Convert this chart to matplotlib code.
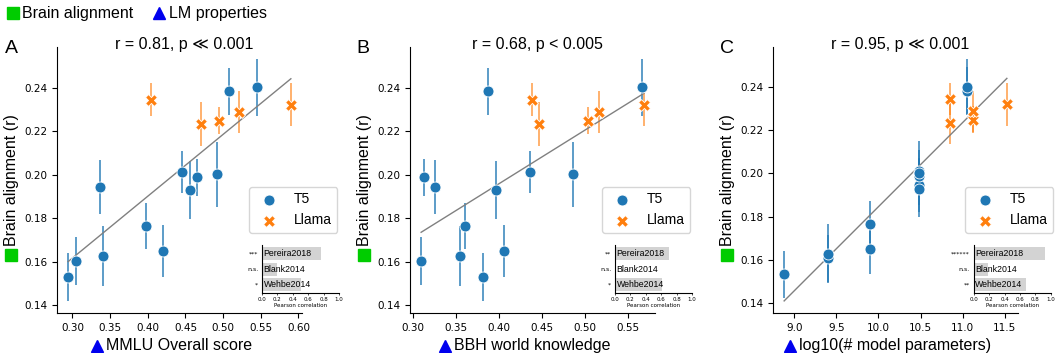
import numpy as np
import matplotlib
matplotlib.use('Agg')
import matplotlib.pyplot as plt
from matplotlib.lines import Line2D

# brain alignment (r) per model, same values in every panel
t5_brain = [0.1531, 0.1605, 0.1945, 0.1627, 0.1764, 0.1651, 0.2013, 0.1929, 0.1988, 0.2003, 0.2385, 0.2402]
t5_err = [0.011, 0.011, 0.0123, 0.0138, 0.0106, 0.0119, 0.0096, 0.0133, 0.0086, 0.015, 0.0108, 0.013]
llama_brain = [0.2346, 0.2235, 0.2249, 0.2289, 0.2323]
llama_err = [0.0074, 0.010, 0.0063, 0.0096, 0.010]

# LM properties
t5_mmlu = [0.2943, 0.3053, 0.3366, 0.341, 0.397, 0.4196, 0.4456, 0.4558, 0.4655, 0.4924, 0.5079, 0.5449]
llama_mmlu = [0.4041, 0.4712, 0.495, 0.5206, 0.5899]
t5_bbh = [0.3815, 0.3096, 0.3258, 0.3546, 0.36, 0.4058, 0.4365, 0.3965, 0.3135, 0.4858, 0.3873, 0.5654]
llama_bbh = [0.4377, 0.4465, 0.5035, 0.5162, 0.5681]
t5_logp = [8.88, 9.395, 10.48, 9.395, 9.904, 9.904, 10.48, 10.48, 10.48, 10.48, 11.05, 11.05]
llama_logp = [10.844, 10.844, 11.117, 11.117, 11.524]

# inset: correlation per brain dataset
datasets = ['Pereira2018', 'Blank2014', 'Wehbe2014']
corr_a = [0.77, 0.19, 0.51]
corr_b = [0.70, 0.0, 0.61]
corr_c = [0.925, 0.185, 0.674]
sig_a = ['***', 'n.s.', '*']
sig_b = ['**', 'n.s.', '*']
sig_c = ['******', 'n.s.', '**']

letters = ['A', 'B', 'C']
xlabels = ['MMLU Overall score', 'BBH world knowledge', 'log10(# model parameters)']
titles = ['r = 0.81, p \u226a 0.001', 'r = 0.68, p < 0.005', 'r = 0.95, p \u226a 0.001']

BLUE = '#1f77b4'
ORANGE = '#ff7f0e'
GREEN = '#00cc00'
TRI = '#0000ee'
LAB = ['Liberation Sans', 'DejaVu Sans']

W, H = 1055, 353
fig = plt.figure(figsize=(W / 100, H / 100), dpi=100)

lefts = [57, 410, 773]
letter_x = [5, 356, 720]
inset_x = [0.837, 0.837, 0.82]
panels = [(t5_mmlu, llama_mmlu, corr_a, sig_a),
          (t5_bbh, llama_bbh, corr_b, sig_b),
          (t5_logp, llama_logp, corr_c, sig_c)]

axes = []
for i, (tx, lx, corr, sig) in enumerate(panels):
    ax = fig.add_axes([lefts[i] / W, 40 / H, 245 / W, 266 / H])
    axes.append(ax)
    ax.errorbar(tx, t5_brain, yerr=t5_err, fmt='none', ecolor=BLUE, elinewidth=1.2, alpha=0.85, zorder=1)
    ax.errorbar(lx, llama_brain, yerr=llama_err, fmt='none', ecolor=ORANGE, elinewidth=1.2, alpha=0.7, zorder=1)

    allx = np.r_[tx, lx]
    ally = np.r_[t5_brain, llama_brain]
    k, b = np.polyfit(allx, ally, 1)
    xs = np.array([allx.min(), allx.max()])
    ax.plot(xs, k * xs + b, color='gray', lw=1, zorder=2)

    ax.scatter(tx, t5_brain, s=62, marker='o', c=BLUE, edgecolors='white', linewidths=0.6, zorder=3, label='T5')
    ax.scatter(lx, llama_brain, s=72, marker='X', c=ORANGE, edgecolors='white', linewidths=0.6, zorder=3, label='Llama')

    ax.set_yticks([0.14, 0.16, 0.18, 0.20, 0.22, 0.24])
    ax.yaxis.set_major_formatter('{x:.2f}')
    ax.tick_params(labelsize=7.5)
    ax.spines['top'].set_visible(False)
    ax.spines['right'].set_visible(False)
    ax.set_xlabel(xlabels[i], family=LAB, fontsize=11.5)
    ax.set_ylabel('Brain alignment (r)', family=LAB, fontsize=11.5)
    ax.text(0.52, 1 - 2 / 266, titles[i], transform=ax.transAxes, ha='center', va='baseline',
            family=LAB, fontsize=11.5)
    fig.text(letter_x[i] / W, 1 - 53 / H, letters[i], family=LAB, fontsize=14, va='baseline')

    ax.legend(loc='upper left', bbox_to_anchor=(0.785, 0.474), prop={'family': LAB, 'size': 10},
              borderaxespad=0)

    ins = ax.inset_axes([inset_x[i], 0.074, 0.314, 0.18])
    pos = [2, 1, 0]
    ins.barh(pos, corr, height=0.85, color='#d3d3d3')
    ins.set_xlim(0, 1)
    ins.set_ylim(-0.55, 2.55)
    ins.set_yticks([])
    ins.set_xticks(np.arange(0, 1.01, 0.2))
    ins.tick_params(axis='x', labelsize=4, length=1.5, width=0.5, pad=1)
    ins.set_xlabel('Pearson correlation', fontsize=4, labelpad=1)
    ins.spines['top'].set_visible(False)
    ins.spines['right'].set_visible(False)
    for p, name, s in zip(pos, datasets, sig):
        ins.text(0.02, p, name, fontsize=6.3, va='center', family=LAB)
        ins.text(-0.05, p, s, fontsize=4.5, va='center', ha='right')

fig.legend(handles=[Line2D([], [], marker='s', color=GREEN, ls='none', ms=9),
                    Line2D([], [], marker='^', color=TRI, ls='none', ms=9)],
           labels=['Brain alignment', 'LM properties'], loc='upper left', bbox_to_anchor=(0, 1),
           ncol=2, frameon=False, prop={'family': LAB, 'size': 11.5}, handlelength=0.8,
           handletextpad=0.2, columnspacing=1.2, borderaxespad=0.2, borderpad=0.2)

# coloured markers next to the axis labels
fig.canvas.draw()
r = fig.canvas.get_renderer()
for ax in axes:
    bb = ax.yaxis.label.get_window_extent(r)
    fig.add_artist(Line2D([(bb.x0 + bb.x1) / 2 / W], [(bb.y0 - 9) / H], marker='s', ms=9,
                          color=GREEN, ls='none', transform=fig.transFigure))
    bb = ax.xaxis.label.get_window_extent(r)
    fig.add_artist(Line2D([(bb.x0 - 9) / W], [(bb.y0 + bb.y1) / 2 / H], marker='^', ms=9,
                          color=TRI, ls='none', transform=fig.transFigure))

fig.savefig('out.png', dpi=100)
